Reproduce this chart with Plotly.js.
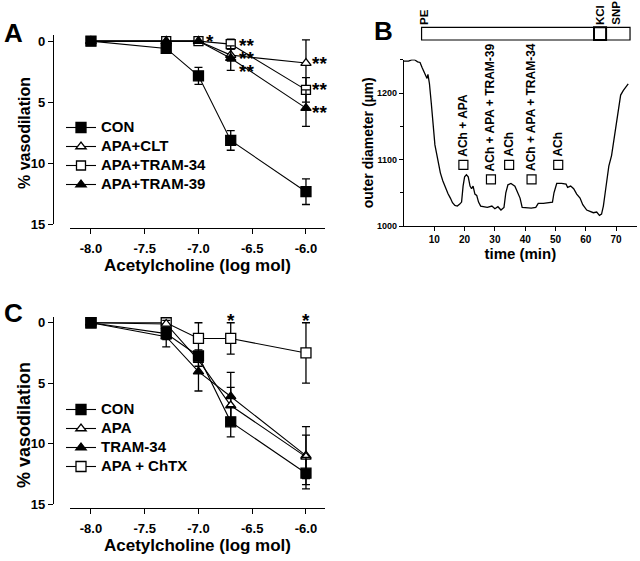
<!DOCTYPE html>
<html>
<head>
<meta charset="utf-8">
<script src="https://cdn.plot.ly/plotly-3.0.1.min.js"></script>
<style>
  body { margin: 0; background: #ffffff; }
  #chart { width: 640px; height: 561px; }
</style>
</head>
<body>
<div id="chart"></div>
<script>
// shared dose axis (log mol)
var dose = [-8.0, -7.3, -7.0, -6.7, -6.0];
var doseTicks = [-8, -7.5, -7, -6.5, -6];
var doseTickText = ["-8.0", "-7.5", "-7.0", "-6.5", "-6.0"];

// panel A
var aCon = [0, 0.6, 2.85, 8.15, 12.35];
var aConErr = [0, 0.3, 0.7, 0.8, 1.05];
var aClt = [0, 0, 0, 1.15, 1.8];
var aCltErr = [0, 0, 0, 0.5, 1.9];
var aTram34 = [0, 0, 0, 0.25, 4.0];
var aTram34Err = [0, 0, 0, 0.4, 1.0];
var aTram39 = [0, 0, 0, 1.4, 5.5];
var aTram39Err = [0, 0, 0, 1.0, 1.5];
var aStarX = [-6.95, -6.64, -6.64, -6.64, -5.963, -5.963, -5.963];
var aStarY = [-0.35, -0.08, 1.0, 2.05, 1.42, 3.6, 5.43];
var aStarText = ["*", "**", "**", "**", "**", "**", "**"];

// panel C
var cCon = [0, 0.9, 2.75, 8.2, 12.45];
var cConErr = [0, 0.5, 0.5, 1.25, 1.3];
var cApa = [0, 0.1, 3.1, 6.85, 11.1];
var cApaErr = [0, 0.3, 0.5, 1.5, 1.8];
var cTram34 = [0, 1.15, 4.05, 6.1, 11.0];
var cTram34Err = [0, 0.85, 1.6, 2.0, 2.4];
var cChtx = [0, 0, 1.3, 1.3, 2.5];
var cChtxErr = [0, 0, 1.3, 1.3, 2.5];
var cStarX = [-6.7, -6.0];
var cStarY = [-0.45, -0.45];

// panel B: outer diameter trace
var bTime = [0.0, 1.5, 2.5, 3.5, 4.5, 5.3, 6.0, 7.0, 7.6, 7.9, 8.4, 9.0, 9.6, 10.2, 10.8, 11.4,
  12.0, 12.8, 13.6, 14.5, 15.3, 16.0, 16.8, 17.6, 18.4, 19.0, 19.5, 20.0, 20.6, 21.2, 21.8,
  22.3, 22.8, 23.4, 24.0, 24.6, 25.3, 26.0, 27.5, 29.0, 30.0, 31.0, 32.0, 33.0, 33.6, 34.3,
  35.3, 36.6, 37.4, 38.3, 39.0, 40.5, 42.0, 43.5, 44.3, 46.0, 47.5, 49.0, 49.5, 50.4, 52.0,
  53.5, 54.0, 55.0, 56.0, 57.0, 58.1, 59.0, 60.3, 61.5, 62.5, 63.6, 64.5, 65.2, 65.8, 66.4,
  67.0, 67.6, 68.5, 69.3, 70.0, 70.8, 71.5, 72.4, 73.2, 74.0];
var bDiam = [1248, 1248, 1250, 1250, 1247, 1246, 1238, 1228, 1222, 1228, 1214, 1185, 1150, 1122, 1108, 1094,
  1080, 1068, 1058, 1049, 1042, 1035, 1031, 1030, 1033, 1036, 1060, 1074, 1077, 1074, 1060,
  1056, 1060, 1048, 1046, 1036, 1030, 1029, 1028, 1030, 1026, 1029, 1024, 1028, 1050, 1062,
  1064, 1060, 1050, 1042, 1028, 1027, 1027, 1028, 1034, 1034, 1035, 1036, 1050, 1064, 1064,
  1063, 1058, 1060, 1056, 1048, 1042, 1032, 1024, 1022, 1020, 1021, 1016, 1018, 1030, 1050,
  1072, 1090, 1106, 1130, 1155, 1178, 1197, 1204, 1210, 1214];
var eventTime = [19.6, 28.7, 34.7, 42.1, 50.9];
var eventLevel = [1092, 1070, 1092, 1070, 1092];
var eventText = ["ACh + APA", "ACh + APA + TRAM-39", "ACh", "ACh + APA + TRAM-34", "ACh"];
var barEdges = [5.8, 62.7, 66.7, 74.6];
var barText = ["PE", "KCl", "SNP"];
var barTextTime = [6.6, 64.7, 69.9];

var FONT = "Liberation Sans, Arial, sans-serif";
var bold = function (s) { return {family: FONT, size: s, color: "#000", weight: "bold"}; };
// legend rows are sized from the legend font, so the names carry their own larger size
var big = function (s) { return '<span style="font-size:15px">' + s + '</span>'; };

function series(x, y, err, name, symbol, fill, size, xa, ya, legend, rank) {
  return {
    x: x, y: y, name: big(name), type: "scatter", mode: "lines+markers",
    xaxis: xa, yaxis: ya, legend: legend, legendrank: rank,
    line: {color: "#000", width: 1.1},
    marker: {symbol: symbol, size: size, color: fill, line: {color: "#000", width: 1.3}},
    error_y: {type: "data", array: err, visible: true, color: "#000", thickness: 1.3, width: 4}
  };
}

var data = [
  series(dose, aClt, aCltErr, "APA+CLT", "triangle-up", "#fff", 9, "x", "y", "legend", 2),
  series(dose, aTram34, aTram34Err, "APA+TRAM-34", "square", "#fff", 9, "x", "y", "legend", 3),
  series(dose, aTram39, aTram39Err, "APA+TRAM-39", "triangle-up", "#000", 9, "x", "y", "legend", 4),
  series(dose, aCon, aConErr, "CON", "square", "#000", 10, "x", "y", "legend", 1),

  series(dose, cChtx, cChtxErr, "APA + ChTX", "square", "#fff", 10, "x3", "y3", "legend2", 4),
  series(dose, cTram34, cTram34Err, "TRAM-34", "triangle-up", "#000", 9, "x3", "y3", "legend2", 3),
  series(dose, cApa, cApaErr, "APA", "triangle-up", "#fff", 9, "x3", "y3", "legend2", 2),
  series(dose, cCon, cConErr, "CON", "square", "#000", 10, "x3", "y3", "legend2", 1),

  {x: bTime, y: bDiam, type: "scatter", mode: "lines", xaxis: "x2", yaxis: "y2",
   showlegend: false, line: {color: "#000", width: 1.3}},
  {x: eventTime, y: eventLevel, type: "scatter", mode: "markers", xaxis: "x2", yaxis: "y2",
   showlegend: false, marker: {symbol: "square", size: 9, color: "#fff", line: {color: "#000", width: 1.2}}}
];

function px(x) { return x / 640; }
function py(y) { return 1 - y / 561; }

function doseAxis(yLine, title) {
  return {
    domain: [px(70), px(325)], range: [-8.195, -5.823], anchor: "free", position: py(yLine),
    showline: true, linecolor: "#000", linewidth: 1.3, ticks: "outside", ticklen: 5,
    tickwidth: 1.3, tickcolor: "#000", tickvals: doseTicks, ticktext: doseTickText,
    tickfont: bold(13), ticklabelstandoff: 3, showgrid: false, zeroline: false,
    title: {text: title, font: bold(17), standoff: 4}
  };
}
function vasoAxis(top, bottom) {
  return {
    domain: [py(bottom), py(top)], range: [15, -0.5], anchor: "free", position: px(53),
    showline: true, linecolor: "#000", linewidth: 1.3, ticks: "outside", ticklen: 5,
    tickwidth: 1.3, tickcolor: "#000", tickvals: [0, 5, 10, 15], tickfont: bold(13),
    showgrid: false, zeroline: false
  };
}

var annotations = [];
aStarText.forEach(function (t, i) {
  annotations.push({x: aStarX[i], y: aStarY[i], xref: "x", yref: "y", text: t, showarrow: false,
    xanchor: "left", yanchor: "middle", yshift: -5, font: bold(19)});
});
cStarX.forEach(function (x, i) {
  annotations.push({x: x, y: cStarY[i], xref: "x3", yref: "y3", text: "*", showarrow: false,
    xanchor: "center", yanchor: "middle", yshift: -3, font: bold(19)});
});
eventText.forEach(function (t, i) {
  annotations.push({x: eventTime[i], y: eventLevel[i], xref: "x2", yref: "y2", text: t,
    showarrow: false, textangle: -90, xanchor: "center", yanchor: "bottom", yshift: 6, font: bold(12)});
});
barText.forEach(function (t, i) {
  annotations.push({x: barTextTime[i], y: py(27), xref: "x2", yref: "paper", text: t,
    showarrow: false, textangle: -90, xanchor: "center", yanchor: "bottom", font: bold(11.5)});
});
[["A", 2, 33], ["B", 372, 31], ["C", 2, 313]].forEach(function (p) {
  annotations.push({x: px(p[1]), y: py(p[2]), xref: "paper", yref: "paper", text: p[0],
    showarrow: false, xanchor: "left", yanchor: "middle", font: bold(26)});
});
// y-axis titles of the dose-response panels
[[133, 16], [425, 18]].forEach(function (p) {
  annotations.push({x: px(24), y: py(p[0]), xref: "paper", yref: "paper", text: "% vasodilation",
    showarrow: false, textangle: -90, xanchor: "center", yanchor: "middle", font: bold(p[1])});
});

var shapes = [
  {type: "rect", xref: "x2", yref: "paper", x0: barEdges[0], x1: barEdges[3], y0: py(40), y1: py(27.3),
   line: {color: "#000", width: 1.2}},
  {type: "rect", xref: "x2", yref: "paper", x0: barEdges[1], x1: barEdges[2], y0: py(40), y1: py(27.3),
   line: {color: "#000", width: 2}}
];

var layout = {
  width: 640, height: 561,
  margin: {l: 0, r: 0, t: 0, b: 0},
  paper_bgcolor: "#fff", plot_bgcolor: "rgba(0,0,0,0)",
  font: {family: FONT, color: "#000"},
  showlegend: true,
  xaxis: doseAxis(228, "Acetylcholine (log mol)"),
  yaxis: vasoAxis(35, 224),
  xaxis3: doseAxis(508, "Acetylcholine (log mol)"),
  yaxis3: vasoAxis(316.7, 504),
  xaxis2: {
    domain: [px(404), px(636.7)], range: [0, 76.8], anchor: "y2",
    showline: true, linecolor: "#000", linewidth: 1.3, ticks: "outside", ticklen: 4,
    tickwidth: 1.2, tickcolor: "#000", tickvals: [10, 20, 30, 40, 50, 60, 70],
    tickfont: bold(10), showgrid: false, zeroline: false,
    title: {text: "time (min)", font: bold(15), standoff: 4}
  },
  yaxis2: {
    domain: [py(226), py(59.5)], range: [1000, 1250.5], anchor: "x2",
    showline: true, linecolor: "#000", linewidth: 1.3, ticks: "outside", ticklen: 4,
    tickwidth: 1.2, tickcolor: "#000", tickvals: [1000, 1100, 1200],
    minor: {tickvals: [1050, 1150, 1250], ticks: "outside", ticklen: 3, tickcolor: "#000", tickwidth: 1},
    tickfont: bold(9), showgrid: false, zeroline: false,
    title: {text: "outer diameter (µm)", font: bold(14), standoff: 0}
  },
  legend: {x: px(61), y: py(113), xanchor: "left", yanchor: "top", bgcolor: "rgba(0,0,0,0)",
    font: bold(12), itemwidth: 30, tracegroupgap: 0},
  legend2: {x: px(61), y: py(395), xanchor: "left", yanchor: "top", bgcolor: "rgba(0,0,0,0)",
    font: bold(12), itemwidth: 30, tracegroupgap: 0},
  annotations: annotations,
  shapes: shapes
};

Plotly.newPlot("chart", data, layout, {displayModeBar: false});
</script>
</body>
</html>
